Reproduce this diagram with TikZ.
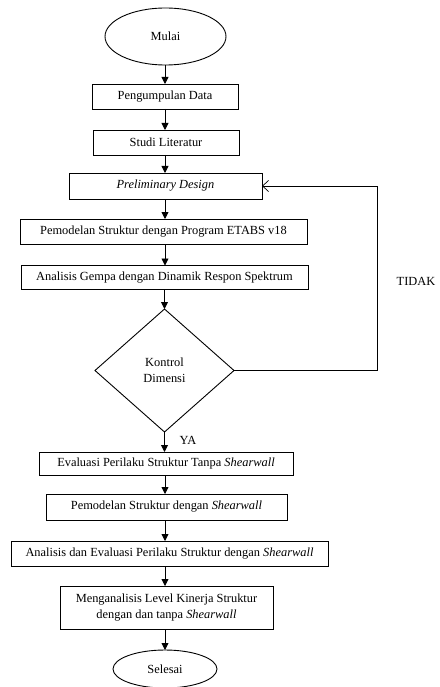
\documentclass[tikz,border=0pt]{standalone}
\usepackage{fontspec}
\setmainfont{Liberation Serif}
\usetikzlibrary{shapes.geometric,arrows.meta}
\begin{document}
\begin{tikzpicture}[x=1pt,y=-1pt,
  font=\fontsize{12.4}{16}\selectfont,
  every node/.style={inner sep=0pt, outer sep=0pt},
  procbox/.style={draw, line width=0.9pt, rectangle, align=center},
  term/.style={draw, line width=0.9pt, ellipse},
  decis/.style={draw, line width=0.9pt, diamond, align=center},
  flow/.style={line width=0.9pt, -{Triangle[length=7pt,width=7pt]}},
  back/.style={line width=0.7pt, -{Straight Barb[length=6pt,width=11pt]}}]
\useasboundingbox (0,0) rectangle (439,687);
\coordinate (spine) at (165,0);
\node[term, minimum width=121pt, minimum height=57pt] (mulai) at (165.5,36.5) {Mulai};
\node[procbox, minimum width=146pt, minimum height=25pt] (pd) at (165,96.5) {Pengumpulan Data};
\node[procbox, minimum width=146pt, minimum height=25pt] (sl) at (166,142.5) {Studi Literatur};
\node[procbox, minimum width=193pt, minimum height=26pt] (prel) at (165.5,186) {\itshape Preliminary Design};
\node[procbox, minimum width=287pt, minimum height=25pt] (etabs) at (163.5,231.5) {Pemodelan Struktur dengan Program ETABS v18};
\node[procbox, minimum width=287pt, minimum height=24pt] (gempa) at (164.5,277.5) {Analisis Gempa dengan Dinamik Respon Spektrum};
\node[decis, minimum width=139pt, minimum height=123pt, align=center] (kd) at (164.5,370.5) {\fontsize{12.4}{20}\selectfont Kontrol\\ Dimensi};
\node[procbox, minimum width=254pt, minimum height=23pt] (eval) at (166,463.5) {Evaluasi Perilaku Struktur Tanpa \textit{Shearwall}};
\node[procbox, minimum width=241pt, minimum height=26pt] (pmsw) at (166.5,507) {Pemodelan Struktur dengan \textit{Shearwall}};
\node[procbox, minimum width=317pt, minimum height=25pt] (anev) at (169.5,553.5) {Analisis dan Evaluasi Perilaku Struktur dengan \textit{Shearwall}};
\node[procbox, minimum width=213pt, minimum height=43pt] (meng) at (166.5,607.5) {Menganalisis Level Kinerja Struktur\\ dengan dan tanpa \textit{Shearwall}};
\node[term, minimum width=104pt, minimum height=38pt] (selesai) at (165,669) {Selesai};
\node (tidak) at (416,281) {TIDAK};
\node (ya) at (188,440) {YA};
\coordinate (fb1) at (377,370.5);
\coordinate (fb2) at (377,186);

\draw[flow] (mulai.south -| spine) -- (pd.north -| spine);
\draw[flow] (pd.south -| spine) -- (sl.north -| spine);
\draw[flow] (sl.south -| spine) -- (prel.north -| spine);
\draw[flow] (prel.south -| spine) -- (etabs.north -| spine);
\draw[flow] (etabs.south -| spine) -- (gempa.north -| spine);
\draw[flow] (gempa.south -| kd) -- (kd.north);
\draw[flow] (kd.south) -- (eval.north -| kd);
\draw[flow] (eval.south -| spine) -- (pmsw.north -| spine);
\draw[flow] (pmsw.south -| spine) -- (anev.north -| spine);
\draw[flow] (anev.south -| spine) -- (meng.north -| spine);
\draw[flow] (meng.south -| spine) -- (selesai.north -| spine);
\draw[back] (kd.east) -- (fb1) -- (fb2) -- (prel.east);
\end{tikzpicture}
\end{document}
